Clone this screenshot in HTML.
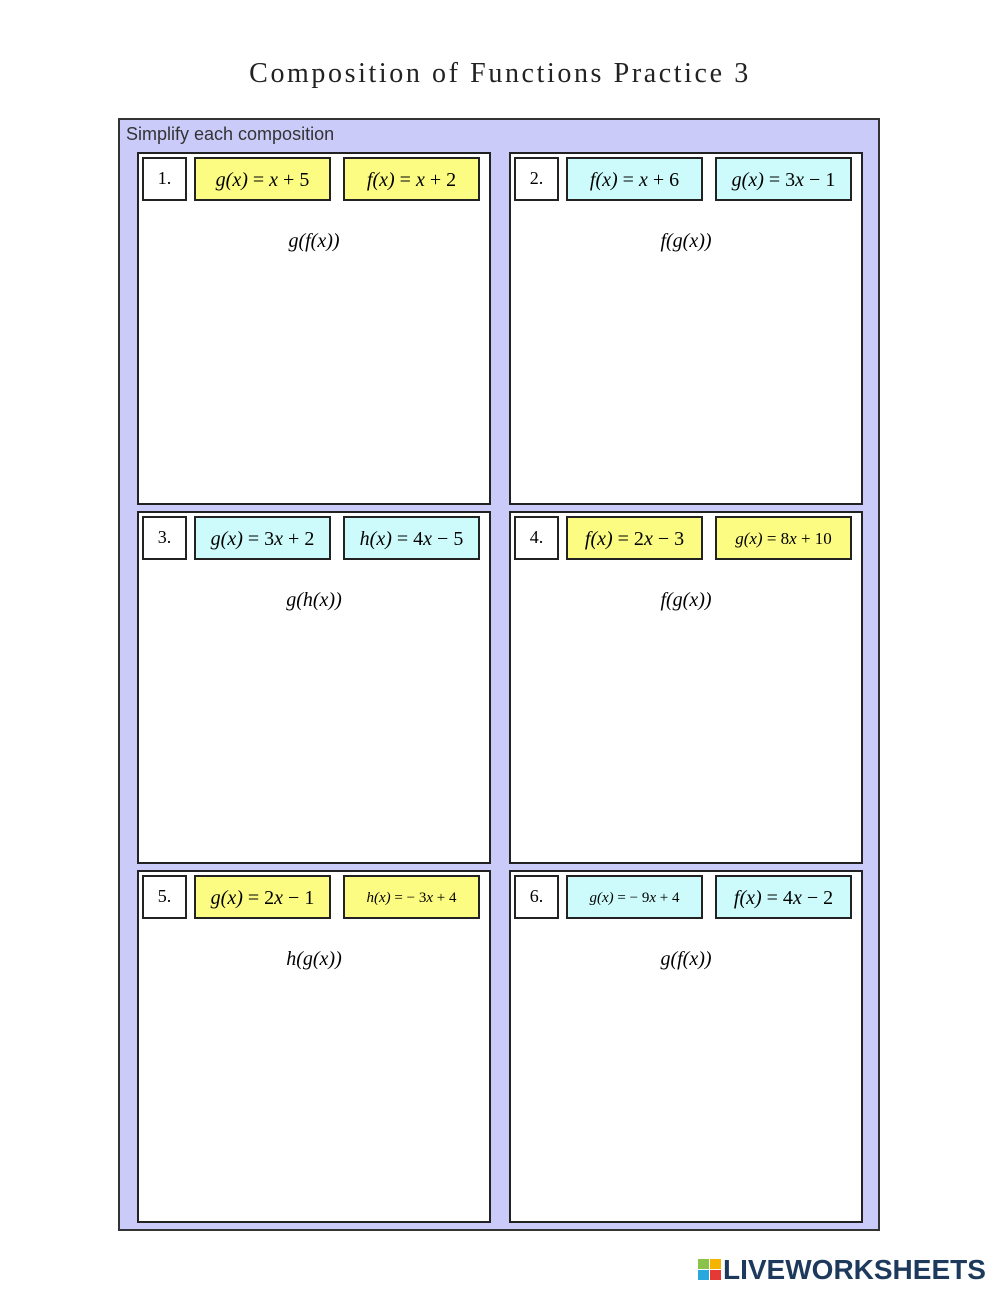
<!DOCTYPE html>
<html><head><meta charset="utf-8"><style>
body{margin:0;width:1000px;height:1291px;background:#fff;position:relative;font-family:"Liberation Serif",serif;}
.a{position:absolute;box-sizing:border-box;}
.title{left:0;width:1000px;top:58px;text-align:center;font-size:28px;color:#222;letter-spacing:2.6px;}
.outer{left:118px;top:118px;width:762px;height:1113px;background:#cbcbfa;border:2px solid #333;}
.sub{left:126px;top:124px;font-family:"Liberation Sans",sans-serif;font-size:18px;color:#333;}
.p{background:#fff;border:2px solid #222;width:354px;height:353px;}
.n{background:#fff;border:2px solid #222;width:45px;height:44px;text-align:center;line-height:38px;font-size:18px;}
.f{border:2px solid #222;width:137px;height:44px;text-align:center;line-height:42px;font-size:20px;font-style:italic;white-space:nowrap;}
.f i{font-style:normal}
.y{background:#fcfc83}.c{background:#cdfbfb}
.comp{width:354px;text-align:center;font-size:20px;font-style:italic;}
.logo{left:698px;top:1254px;font-family:"Liberation Sans",sans-serif;font-weight:bold;font-size:28px;color:#1d3a5c;}
</style></head><body>
<div class="a title">Composition of Functions Practice 3</div>
<div class="a outer"></div>
<div class="a sub">Simplify each composition</div>

<div class="a p" style="left:137px;top:152px"></div>
<div class="a p" style="left:509px;top:152px"></div>
<div class="a p" style="left:137px;top:511px"></div>
<div class="a p" style="left:509px;top:511px"></div>
<div class="a p" style="left:137px;top:870px"></div>
<div class="a p" style="left:509px;top:870px"></div>

<div class="a n" style="left:142px;top:157px">1.</div>
<div class="a f y" style="left:194px;top:157px">g(x) <i>=</i> x <i>+ 5</i></div>
<div class="a f y" style="left:343px;top:157px">f(x) <i>=</i> x <i>+ 2</i></div>
<div class="a comp" style="left:137px;top:230px">g(f(x))</div>

<div class="a n" style="left:514px;top:157px">2.</div>
<div class="a f c" style="left:566px;top:157px">f(x) <i>=</i> x <i>+ 6</i></div>
<div class="a f c" style="left:715px;top:157px">g(x) <i>= 3</i>x <i>− 1</i></div>
<div class="a comp" style="left:509px;top:230px">f(g(x))</div>

<div class="a n" style="left:142px;top:516px">3.</div>
<div class="a f c" style="left:194px;top:516px">g(x) <i>= 3</i>x <i>+ 2</i></div>
<div class="a f c" style="left:343px;top:516px">h(x) <i>= 4</i>x <i>− 5</i></div>
<div class="a comp" style="left:137px;top:589px">g(h(x))</div>

<div class="a n" style="left:514px;top:516px">4.</div>
<div class="a f y" style="left:566px;top:516px">f(x) <i>= 2</i>x <i>− 3</i></div>
<div class="a f y" style="left:715px;top:516px;font-size:17px">g(x) <i>= 8</i>x <i>+ 10</i></div>
<div class="a comp" style="left:509px;top:589px">f(g(x))</div>

<div class="a n" style="left:142px;top:875px">5.</div>
<div class="a f y" style="left:194px;top:875px">g(x) <i>= 2</i>x <i>− 1</i></div>
<div class="a f y" style="left:343px;top:875px;font-size:15px">h(x) <i>= − 3</i>x <i>+ 4</i></div>
<div class="a comp" style="left:137px;top:948px">h(g(x))</div>

<div class="a n" style="left:514px;top:875px">6.</div>
<div class="a f c" style="left:566px;top:875px;font-size:15px">g(x) <i>= − 9</i>x <i>+ 4</i></div>
<div class="a f c" style="left:715px;top:875px">f(x) <i>= 4</i>x <i>− 2</i></div>
<div class="a comp" style="left:509px;top:948px">g(f(x))</div>

<div class="a" style="left:698px;top:1259px;width:11px;height:10px;background:#8bc34a"></div>
<div class="a" style="left:710px;top:1259px;width:11px;height:10px;background:#f5b400"></div>
<div class="a" style="left:698px;top:1270px;width:11px;height:10px;background:#29a8e0"></div>
<div class="a" style="left:710px;top:1270px;width:11px;height:10px;background:#e53935"></div>
<div class="a logo" style="left:723px">LIVEWORKSHEETS</div>
</body></html>
